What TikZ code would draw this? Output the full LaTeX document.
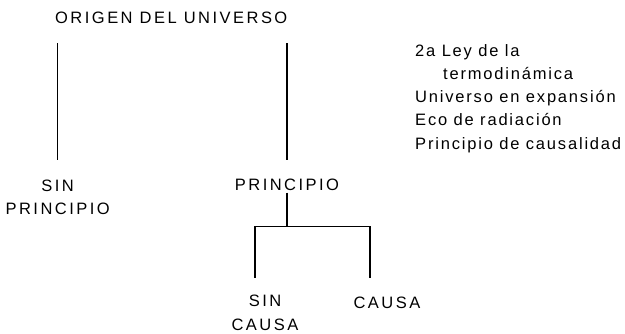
\documentclass[tikz,border=0pt]{standalone}
\usepackage{fontspec}
\setmainfont{Liberation Sans}[LetterSpace=11]
\newfontfamily\capsfont{Liberation Sans}[LetterSpace=15]
\usepackage{tikz}
\usetikzlibrary{positioning}

\begin{document}
\begin{tikzpicture}[
    x=1pt, y=1pt,
    every node/.style={font=\fontsize{16.5}{23.4}\selectfont, inner sep=0pt},
    label/.style={align=center, font=\fontsize{16.5}{23.6}\selectfont\capsfont},
    list/.style={align=left, font=\fontsize{16.5}{23.1}\selectfont},
    link/.style={draw=black, line width=1.1pt}
  ]
    \useasboundingbox (0,0) rectangle (625,334);

    % Top
    \node[label, anchor=base west] (origen) at (55,310.5) {ORIGEN DEL UNIVERSO};
    \node[list, anchor=north west] (leyes) at (415,289.5) {2a Ley de la\\
      \hspace*{28pt}termodin\'amica\\
      Universo en expansi\'on\\
      Eco de radiaci\'on\\
      Principio de causalidad};

    % Second level
    \node[label, anchor=north] (sinprin) at (57.7,154.7) {SIN\\PRINCIPIO};
    \node[label, anchor=base] (principio) at (287,143.3) {PRINCIPIO};

    % Third level
    \node[label, anchor=north] (sincausa) at (265,39) {SIN\\CAUSA};
    \node[label, anchor=base] (causa) at (387,25.7) {CAUSA};

    % Connections
    \coordinate (split) at ([yshift=-35pt]principio.south);
    \coordinate (lft) at ([shift={(-10pt,17pt)}]sincausa.north);
    \coordinate (rgt) at ([xshift=-17pt]causa.north |- lft);
    \draw[link, shorten <=19.5pt, shorten >=19.3pt] (sinprin.north |- origen.south) -- (sinprin.north);
    \draw[link, shorten <=19.5pt, shorten >=19.3pt] (principio.north |- origen.south) -- (principio.north);
    \draw[link] ([yshift=-1.5pt]principio.south) -- (split);
    \draw[link] (lft) -- (lft |- split) -- (rgt |- split) -- (rgt);
  \end{tikzpicture}
\end{document}
